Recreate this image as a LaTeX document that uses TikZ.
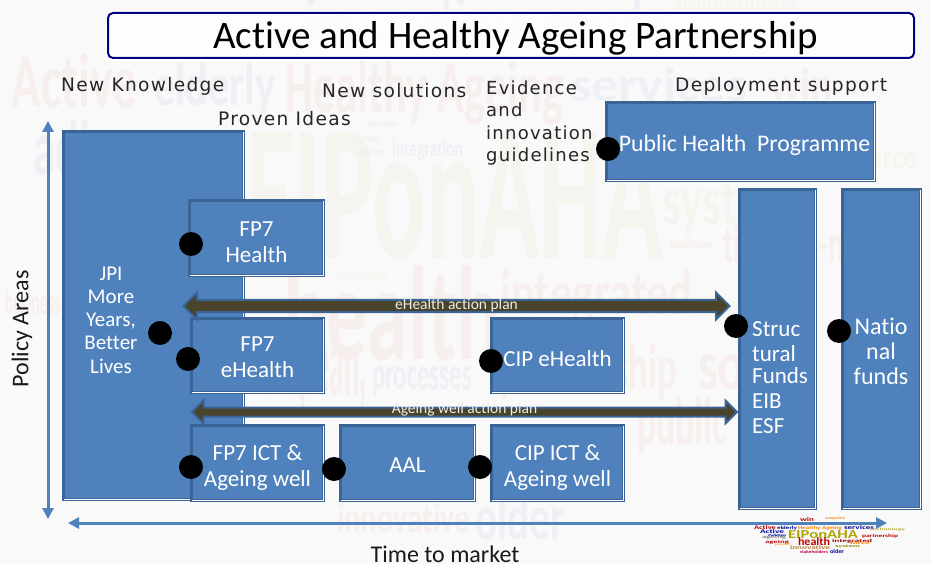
\documentclass[tikz,border=0pt]{standalone}
\usepackage{fontspec}
\setmainfont{Carlito}[Ligatures=NoCommon]
\newfontfamily\widefont[LetterSpace=7]{DejaVu Sans}
\usetikzlibrary{calc,shapes.arrows,arrows.meta}
\definecolor{boxblue}{HTML}{4F81BD}
\definecolor{boxedge}{HTML}{3A6396}
\definecolor{olivedark}{HTML}{4A452A}
\definecolor{navyedge}{HTML}{000080}
\definecolor{paper}{HTML}{F9F9F9}
\definecolor{palered}{HTML}{F7EFED}
\definecolor{paleblue}{HTML}{EFF0F5}
\definecolor{paleolive}{HTML}{F5F5EF}
\newcommand{\topgap}[1]{\rule{0pt}{#1pt}}
\tikzset{
  box/.style={draw=boxedge,line width=3pt,fill=boxblue,anchor=north west,inner sep=0pt,
    text=white,align=center,font=\fontsize{23}{26}\selectfont},
  boxtext/.style={inner sep=0pt,text=white,font=\fontsize{22}{25}\selectfont},
  head/.style={anchor=west,inner sep=0pt,text=black!85,font=\widefont\fontsize{18.6}{22.5}\selectfont},
  axislabel/.style={inner sep=0pt,text=black!90,font=\fontsize{24}{26}\selectfont},
  blockarrow/.style={double arrow,draw=boxedge,line width=2pt,fill=olivedark,inner sep=0pt,
    text=white!90!olivedark,font=\fontsize{15.5}{16}\selectfont},
  dot/.style={circle,fill=black,minimum size=24pt,inner sep=0pt},
  axis/.style={draw=boxblue,line width=3pt,{Triangle[width=11pt,length=11pt]}-{Triangle[width=11pt,length=11pt]}},
  cloud/.style={anchor=north west,inner sep=0pt,outer sep=0pt,font=\bfseries},
  whiteedge/.style={white,line width=0.7pt}
}
\begin{document}
\begin{tikzpicture}[x=1pt,y=-1pt]
\useasboundingbox (0,0) rectangle (931,564);
\fill[paper] (0,0) rectangle (931,564);

% faint word cloud behind everything
\foreach \x/\y/\w/\h/\c/\t [count=\i] in {
  12/53/125/55/palered/Active, 154/63/121/52/paleblue/elderly,
  285/60/278/65/palered/Healthy Ageing, 570/68/177/34/paleblue/services,
  770/68/63/32/palered/win, 305/-4/362/54/paleblue/innovation people,
  110/22/110/28/paleolive/competitive, 246/133/417/127/paleolive/EIPonAHA,
  283/265/217/95/palered/health, 500/270/193/55/palered/integrated,
  245/330/122/80/palered/{European,}, 372/367/100/30/paleblue/processes,
  500/345/177/55/palered/partnership, 698/340/117/50/palered/social,
  637/398/90/57/palered/public, 337/503/133/30/palered/innovative,
  475/495/90/45/paleblue/older, 392/140/71/20/paleblue/integration,
  662/180/138/55/paleolive/system, 860/145/57/25/paleolive/force,
  723/225/197/38/palered/time-to-market, 5/290/55/25/palered/business,
  33/120/197/55/paleblue/adherence, 673/-2/124/12/paleolive/stakeholders,
  368/120/29/8/paleblue/providers, 355/135/25/8/paleblue/markets,
  358/148/27/9/paleblue/partners, 325/236/23/11/paleolive/healthy,
  337/270/50/10/paleolive/multidisciplinary, 670/240/43/10/palered/Simplification,
  715/307/23/9/paleblue/technology}
  \node[cloud,text=\c] (word\i) at (\x,\y) {\resizebox*{\w pt}{\h pt}{\t}};

% title
\node[draw=navyedge,line width=2pt,rounded corners=5pt,fill=white,fill opacity=0.8,text opacity=1,
  preaction={draw=white,line width=6pt,draw opacity=1},
  minimum width=806pt,minimum height=45pt,anchor=north west,inner sep=0pt,
  font=\fontsize{39}{40}\selectfont] (title) at (107,12) {\topgap{33}\hspace*{9pt}Active and Healthy Ageing Partnership};

% column headings
\node[head] (knowledge) at (61,86) {New Knowledge};
\node[head] (solutions) at (322,91) {New solutions};
\node[head] (ideas) at (218,119) {Proven Ideas};
\node[head,align=left,font=\widefont\fontsize{18}{22.5}\selectfont] (evidence) at (486,123) {Evidence\\and\\innovation\\guidelines};
\node[head] (deployment) at (675,86) {Deployment support};

% axes
\coordinate (policy top) at (48,121);
\coordinate (policy bottom) at (48,519);
\coordinate (time left) at (68,523);
\coordinate (time right) at (887,523);
\draw[axis] (policy top) -- (policy bottom);
\draw[axis] (time left) -- (time right);
\node[axislabel,rotate=90] (policy) at (22,329) {Policy Areas};
\node[axislabel] (time) at (445,554) {Time to market};

% programme boxes
\node[box,minimum width=180pt,minimum height=368pt] (jpi) at (62,130) {};
\draw[whiteedge] ($(jpi.south west)+(2,-2)$) -| ($(jpi.north east)+(-2,2)$);
\node[boxtext,align=center,font=\fontsize{21}{23.2}\selectfont] (jpitext) at (111,320) {JPI\\More\\Years,\\Better\\Lives};
\node[box,minimum width=134pt,minimum height=75pt] (fphealth) at (188,199) {\topgap{23}FP7\\Health};
\node[box,minimum width=132pt,minimum height=74pt] (fpehealth) at (190,317) {\topgap{19}FP7\\eHealth};
\node[box,minimum width=132pt,minimum height=75pt] (fpict) at (190,424) {\topgap{25}FP7 ICT \&\\Ageing well};
\node[box,minimum width=134pt,minimum height=75pt] (aal) at (339,424) {\topgap{19}AAL};
\node[box,minimum width=132pt,minimum height=75pt] (cipict) at (490,424) {\topgap{25}CIP ICT \&\\Ageing well};
\node[box,minimum width=132pt,minimum height=74pt] (cipehealth) at (490,317) {\topgap{22}CIP eHealth};
\node[box,minimum width=268pt,minimum height=78pt,font=\fontsize{23.8}{26}\selectfont] (public) at (605,101) {\topgap{24}\hspace*{8pt}Public Health~ Programme};
\node[box,minimum width=76pt,minimum height=319pt] (structural) at (738,188) {};
\node[box,minimum width=78pt,minimum height=319pt] (national) at (841,188) {};
\node[boxtext,align=left,anchor=north west,font=\fontsize{23}{25}\selectfont] (structext) at (752,321) {Struc\\tural\\[-3pt]Funds\\EIB\\ESF};
\node[boxtext,align=center,font=\fontsize{24}{25}\selectfont] (nattext) at (881,351) {Natio\\nal\\funds};

% white edge inside each box
\foreach \n in {fphealth,fpehealth,fpict,aal,cipict,cipehealth,public,structural,national}
  \draw[whiteedge] ($(\n.south west)+(2,-2)$) -| ($(\n.north east)+(-2,2)$);

% action plan arrows
\node[blockarrow,minimum height=546pt,minimum width=27pt,double arrow head extend=7pt,
  text height=8pt,text depth=2pt] (ehealthplan) at (456.5,306) {eHealth action plan};
\node[blockarrow,minimum height=545pt,minimum width=23pt,double arrow head extend=7pt,
  text height=5pt,text depth=2pt] (ageingplan) at (464.5,412) {Ageing well action plan};

% black dots
\foreach \n/\x/\y in {dotjpi/160/333,dothealth/191/244,dotehealth/188/359,dotict/191/467,dotaal/334/469,
  dotcipict/480/467,dotcip/491/361,dotpublic/608/149,dotstruct/736/326,dotnat/839/331}
  \node[dot] (\n) at (\x,\y) {};

% small logo
\foreach \x/\y/\w/\h/\c/\t [count=\i] in {
  788/531/70/8/olive!70!yellow/EIPonAHA, 798/538/32/8/red!75!black/health,
  754/526/22/4/red!70!black/Active, 777/526/20/4/blue!55!black/elderly,
  798/526/44/4/orange/Healthy Ageing, 844/526/30/4/blue!55!black/services,
  760/530/24/4/blue!60!black/Active, 762/535/24/4/gray/ageing, 765/540/24/4/red!70!black/ageing,
  768/534/18/3/blue!60!black/challenges, 832/539/40/4/red!60!black/integrated,
  862/534/36/4/red!70!black/partnership, 790/546/40/4/brown/innovative,
  830/550/14/4/blue!60!black/older, 800/551/28/3/purple/stakeholders,
  800/517/14/4/red!70!black/win, 825/517/20/3/orange/competitive,
  775/543/15/3/orange!70!white/people, 835/545/25/3/olive/system,
  850/542/20/3/orange/force, 870/528/35/3/olive!70!white/technology}
  \node[cloud,text=\c] (logo\i) at (\x,\y) {\resizebox*{\w pt}{\h pt}{\t}};
\end{tikzpicture}
\end{document}
